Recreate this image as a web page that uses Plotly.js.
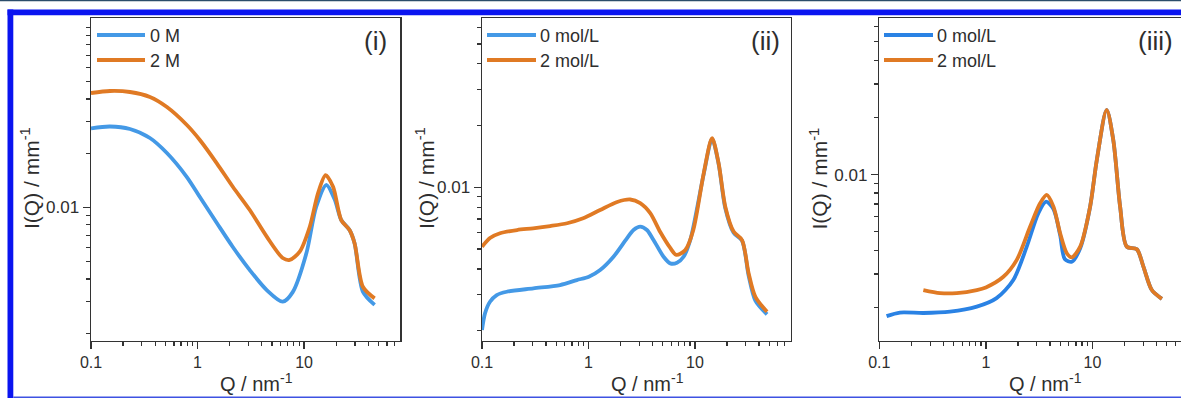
<!DOCTYPE html>
<html>
<head>
<meta charset="utf-8">
<script src="https://cdn.plot.ly/plotly-3.0.1.min.js"></script>
<style>
html,body{margin:0;padding:0;background:#fff;overflow:hidden;width:1181px;height:398px;}
#chart{width:1200px;height:398px;}
</style>
</head>
<body>
<div id="chart"></div>
<script>
// ---------------- DATA ----------------
const panelLabels = ["(i)", "(ii)", "(iii)"];
const seriesNames1 = ["0 M", "2 M"];
const seriesNames2 = ["0 mol/L", "2 mol/L"];
const seriesNames3 = ["0 mol/L", "2 mol/L"];
const xTitle = "Q / nm<sup>-1</sup>";
const yTitle = "I(Q) / mm<sup>-1</sup>";

const xTickVals = [0.1, 1, 10];
const xTickText = ["0.1", "1", "10"];
const yTickVals = [0.01];
const yTickText = ["0.01"];
const xMinorVals = [0.2,0.3,0.4,0.5,0.6,0.7,0.8,0.9,2,3,4,5,6,7,8,9,20,30,40,50,60,70,80,90];
const yMinorVals = [0.002,0.003,0.004,0.005,0.006,0.007,0.008,0.009,0.02,0.03,0.04,0.05,0.06,0.07,0.08,0.09,0.1,0.2];

// Panel (i)
const q1_0M = [0.1,0.1507,0.2321,0.3573,0.5157,0.7939,1.051,1.517,2.142,3.092,4.462,6.301,7.82,10.5,13.0,16.2,19.4,22.3,26.7,29.8,35.6,45.9];
const i1_0M = [0.02747,0.02811,0.02723,0.02427,0.02003,0.01473,0.01141,0.00818,0.00602,0.00448,0.00347,0.00299,0.00338,0.00555,0.01008,0.0133,0.0110,0.0085,0.00748,0.0063,0.0034,0.00287];
const q1_2M = [0.1,0.1507,0.2321,0.3573,0.5157,0.7939,1.051,1.517,2.142,3.092,4.462,6.301,7.33,9.1,11.3,13.5,15.9,18.7,22.3,26.7,29.8,35.6,45.9];
const i1_2M = [0.04315,0.04426,0.04371,0.04101,0.03607,0.02866,0.02366,0.01756,0.01301,0.00966,0.00687,0.00523,0.00510,0.00567,0.0078,0.01196,0.0151,0.0130,0.0085,0.00748,0.0063,0.00362,0.00312];

// Panel (ii)
const q2_0 = [0.1,0.1067,0.1189,0.1375,0.1708,0.3039,0.5418,0.7781,1.009,1.288,1.719,2.298,2.65,3.064,3.543,4.087,5.077,5.869,6.785,7.829,9.05,12.1,14.5,16.7,19.3,23.1,27.7,32,37,47.6];
const i2_0 = [0.002014,0.002429,0.002767,0.002983,0.003095,0.003215,0.003337,0.003529,0.003663,0.00395,0.004586,0.005638,0.00619,0.006426,0.00619,0.005533,0.004586,0.004258,0.004287,0.004586,0.005533,0.0116,0.0172,0.0130,0.0079,0.0060,0.0055,0.0037,0.0028,0.0024];
const q2_2 = [0.1,0.1189,0.1477,0.2134,0.3019,0.4364,0.6309,0.8917,1.288,1.862,2.468,3.064,3.805,4.727,5.869,6.683,8.12,9.66,12.1,14.5,16.7,19.3,23.1,27.7,32,37,47.6];
const i2_2 = [0.00513,0.00566,0.00597,0.00619,0.00631,0.00647,0.00668,0.00706,0.00775,0.00848,0.00872,0.00838,0.00749,0.00605,0.00506,0.00468,0.00494,0.00619,0.0117,0.01734,0.0131,0.00804,0.00608,0.00553,0.0038,0.00292,0.00247];

// Panel (iii)
const q3_0 = [0.117,0.156,0.259,0.461,0.822,1.26,1.81,2.42,3.11,3.67,4.31,4.98,5.5,6.41,7.68,9.52,11.0,13.6,15.7,18.2,21,26.1,30.1,36.1,44.9];
const i3_0 = [0.0018,0.00188,0.00187,0.0019,0.00202,0.00224,0.00279,0.00418,0.00627,0.00721,0.0066,0.0048,0.0036,0.00348,0.0041,0.00679,0.01195,0.0219,0.01523,0.00679,0.00418,0.00405,0.00328,0.00247,0.00222];
const q3_2 = [0.259,0.372,0.533,0.822,1,1.46,1.95,2.60,3.23,3.73,4.31,4.98,5.75,6.41,7.68,9.52,11.0,13.6,15.7,18.2,21,26.1,30.1,36.1,44.9];
const i3_2 = [0.00247,0.00238,0.00238,0.00247,0.00255,0.0029,0.00356,0.00532,0.00707,0.00782,0.00679,0.00492,0.00386,0.00367,0.00418,0.00679,0.01195,0.0219,0.01523,0.00679,0.00418,0.00405,0.00328,0.00247,0.00222];

// ---------------- LAYOUT HELPERS ----------------
const W = 1200, H = 398;
const px = x => x / W;
const py = y => 1 - y / H;
const BLUE = "#4499e6", BLUE3 = "#2a82e4", ORANGE = "#e07a24";
const FONT = "Liberation Sans, Arial, sans-serif";
const TXT = "#2e2e2e";

const panels = [
  {x0: 91,    x1: 400,    yr: [-2.741, -0.95],  xt: 256.5, yt: 29.5},
  {x0: 482,   x1: 790.7,  yr: [-2.748, -1.176], xt: 647.5, yt: 424.5},
  {x0: 879.3, x1: 1188.3, yr: [-2.874, -1.177], xt: 1045,  yt: 818}
];
const yTop = 18.3, yBot = 340.7;

function mkTrace(q, v, color, idx) {
  const s = idx === 1 ? "" : String(idx);
  return {x: q, y: v, type: "scatter", mode: "lines",
    line: {color: color, width: 3.8, shape: "spline", smoothing: 0.8},
    xaxis: "x" + s, yaxis: "y" + s, showlegend: false, hoverinfo: "skip"};
}

const data = [
  mkTrace(q1_0M, i1_0M, BLUE, 1), mkTrace(q1_2M, i1_2M, ORANGE, 1),
  mkTrace(q2_0, i2_0, BLUE, 2),   mkTrace(q2_2, i2_2, ORANGE, 2),
  mkTrace(q3_0, i3_0, BLUE3, 3),  mkTrace(q3_2, i3_2, ORANGE, 3)
];

const layout = {
  width: W, height: H,
  margin: {l: 0, r: 0, t: 0, b: 0},
  paper_bgcolor: "#fff", plot_bgcolor: "rgba(0,0,0,0)",
  showlegend: false,
  font: {family: FONT, color: TXT},
  shapes: [], annotations: []
};

panels.forEach((p, k) => {
  const s = k === 0 ? "" : String(k + 1);
  layout["xaxis" + s] = {
    type: "log", range: [-1, 1.9], domain: [px(p.x0), px(p.x1)], anchor: "y" + s,
    tickvals: xTickVals, ticktext: xTickText, tickmode: "array",
    ticks: "outside", ticklen: 7, tickwidth: 1.4, tickcolor: "#333",
    showline: true, linewidth: 1.5, linecolor: "#333", mirror: true,
    showgrid: false, zeroline: false,
    tickfont: {family: FONT, size: 16, color: TXT},
    minor: {tickmode: "array", tickvals: xMinorVals, ticks: "outside", ticklen: 4, tickwidth: 1.2, tickcolor: "#333", showgrid: false}
  };
  layout["yaxis" + s] = {
    type: "log", range: p.yr, domain: [py(yBot), py(yTop)], anchor: "x" + s,
    tickvals: yTickVals, ticktext: yTickText, tickmode: "array",
    ticks: "outside", ticklen: 7, tickwidth: 1.4, tickcolor: "#333",
    showline: true, linewidth: 1.5, linecolor: "#333", mirror: true,
    showgrid: false, zeroline: false,
    tickfont: {family: FONT, size: 17, color: TXT},
    minor: {tickmode: "array", tickvals: yMinorVals, ticks: "outside", ticklen: 4, tickwidth: 1.2, tickcolor: "#333", showgrid: false}
  };
  // axis titles
  layout.annotations.push({xref: "paper", yref: "paper", x: px(p.xt), y: py(368),
    xanchor: "center", yanchor: "top", showarrow: false, text: xTitle,
    font: {family: FONT, size: 20, color: TXT}});
  layout.annotations.push({xref: "paper", yref: "paper", x: px(p.yt), y: py(178.5),
    xanchor: "center", yanchor: "middle", showarrow: false, text: yTitle, textangle: -90,
    font: {family: FONT, size: 21, color: TXT}});
});

// manual legends and panel labels
const legends = [
  {l0: 97, l1: 145, tx: 148, names: seriesNames1, c0: BLUE},
  {l0: 487, l1: 536, tx: 538, names: seriesNames2, c0: BLUE},
  {l0: 884, l1: 933, tx: 935, names: seriesNames3, c0: BLUE3}
];
const legY = [35, 60];
const labelX = [375, 765, 1155];
legends.forEach((g, k) => {
  [g.c0, ORANGE].forEach((c, j) => {
    layout.shapes.push({type: "line", xref: "paper", yref: "paper",
      x0: px(g.l0), x1: px(g.l1), y0: py(legY[j]), y1: py(legY[j]),
      line: {color: c, width: 3.8}});
    layout.annotations.push({xref: "paper", yref: "paper", x: px(g.tx), y: py(legY[j] + 1),
      xanchor: "left", yanchor: "middle", showarrow: false, text: g.names[j],
      font: {family: FONT, size: 18, color: TXT}});
  });
  layout.annotations.push({xref: "paper", yref: "paper", x: px(labelX[k]), y: py(41),
    xanchor: "center", yanchor: "middle", showarrow: false, text: panelLabels[k],
    font: {family: FONT, size: 26, color: TXT}});
});

// page frame (blue border)
layout.shapes.push(
  {type: "rect", xref: "paper", yref: "paper", x0: 0, x1: 1, y0: py(1.2), y1: py(0), line: {width: 0}, fillcolor: "#2c4d6a", layer: "above"},
  {type: "rect", xref: "paper", yref: "paper", x0: px(7.5), x1: 1, y0: py(15.2), y1: py(9.5), line: {width: 0}, fillcolor: "#0a14f0", layer: "above"},
  {type: "rect", xref: "paper", yref: "paper", x0: px(7.5), x1: px(13.3), y0: 0, y1: py(9.5), line: {width: 0}, fillcolor: "#0a14f0", layer: "above"},
  {type: "rect", xref: "paper", yref: "paper", x0: px(13.3), x1: 1, y0: 0, y1: py(396.6), line: {width: 0}, fillcolor: "#3e52e2", layer: "above"}
);

Plotly.newPlot("chart", data, layout, {staticPlot: true, displayModeBar: false});
</script>
</body>
</html>
